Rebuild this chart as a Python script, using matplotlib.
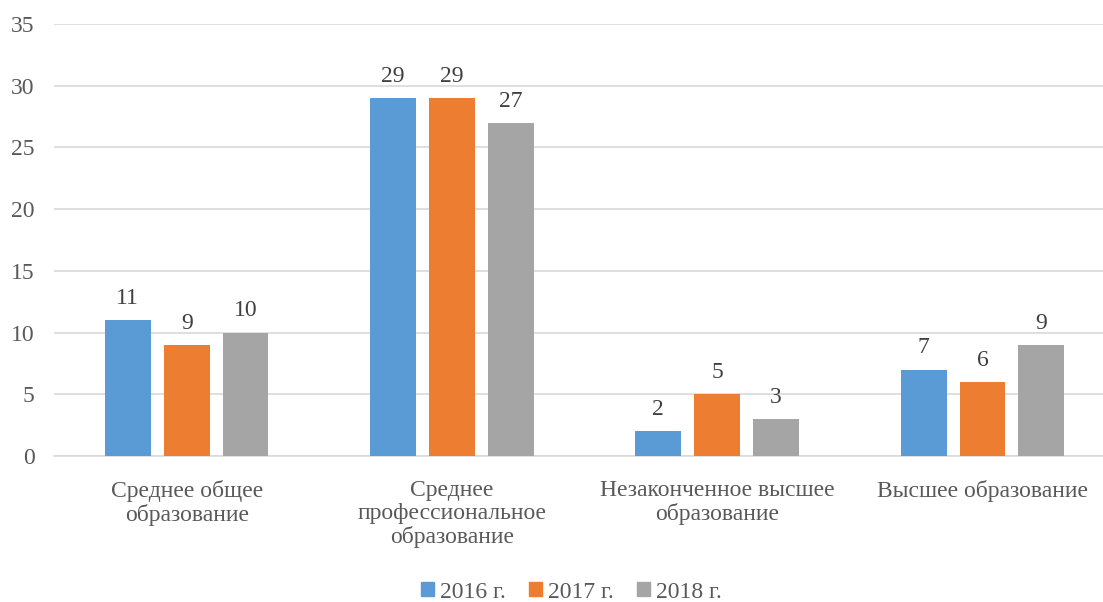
import numpy as np
import matplotlib.pyplot as plt
from matplotlib.patches import Patch

plt.rcParams['font.family'] = 'serif'
plt.rcParams['font.serif'] = ['Liberation Serif', 'DejaVu Serif']

# Education level of respondents by year
categories = ['Среднее общее\nобразование',
              'Среднее\nпрофессиональное\nобразование',
              'Незаконченное высшее\nобразование',
              'Высшее образование']
years = ['2016 г.', '2017 г.', '2018 г.']
v2016 = [11, 29, 2, 7]
v2017 = [9, 29, 5, 6]
v2018 = [10, 27, 3, 9]

colors = ['#5B9BD5', '#ED7D31', '#A5A5A5']
text_color = '#595959'
fs = 17

fig = plt.figure(figsize=(11.03, 6.02), dpi=100)
ax = fig.add_axes([54 / 1103, 1 - 456 / 602, (1103 - 54) / 1103, (456 - 24) / 602])

x = np.arange(len(categories))
width = 0.173
step = 0.222

for i, (vals, col) in enumerate(zip([v2016, v2017, v2018], colors)):
    pos = x + (i - 1) * step
    bars = ax.bar(pos, vals, width, color=col, zorder=3)
    ax.bar_label(bars, labels=[str(v) for v in vals], padding=8,
                 fontsize=fs, color='#404040')

ax.set_ylim(0, 35)
ax.set_yticks(range(0, 36, 5))
ax.set_xlim(-0.5, -0.5 + (1103 - 54) / 265.3)
ax.set_xticks(x)
ax.set_xticklabels(categories, fontsize=fs, color=text_color, linespacing=1.13)
ax.tick_params(axis='y', labelsize=fs, labelcolor=text_color, length=0, pad=14)
ax.tick_params(axis='x', length=0, pad=17)

ax.grid(axis='y', color='#D9D9D9', linewidth=1.2, zorder=0)
for s in ['top', 'right', 'left']:
    ax.spines[s].set_visible(False)
ax.spines['bottom'].set_color('#D9D9D9')
ax.spines['bottom'].set_linewidth(1.2)

handles = [Patch(color=c) for c in colors]
fig.legend(handles, years, loc='center', bbox_to_anchor=(0.518, 1 - 592 / 602),
           ncol=3, frameon=False, fontsize=fs, labelcolor=text_color,
           handlelength=0.55, handleheight=0.55, handletextpad=0.25, columnspacing=1.0)

fig.savefig('out.png', dpi=100)
